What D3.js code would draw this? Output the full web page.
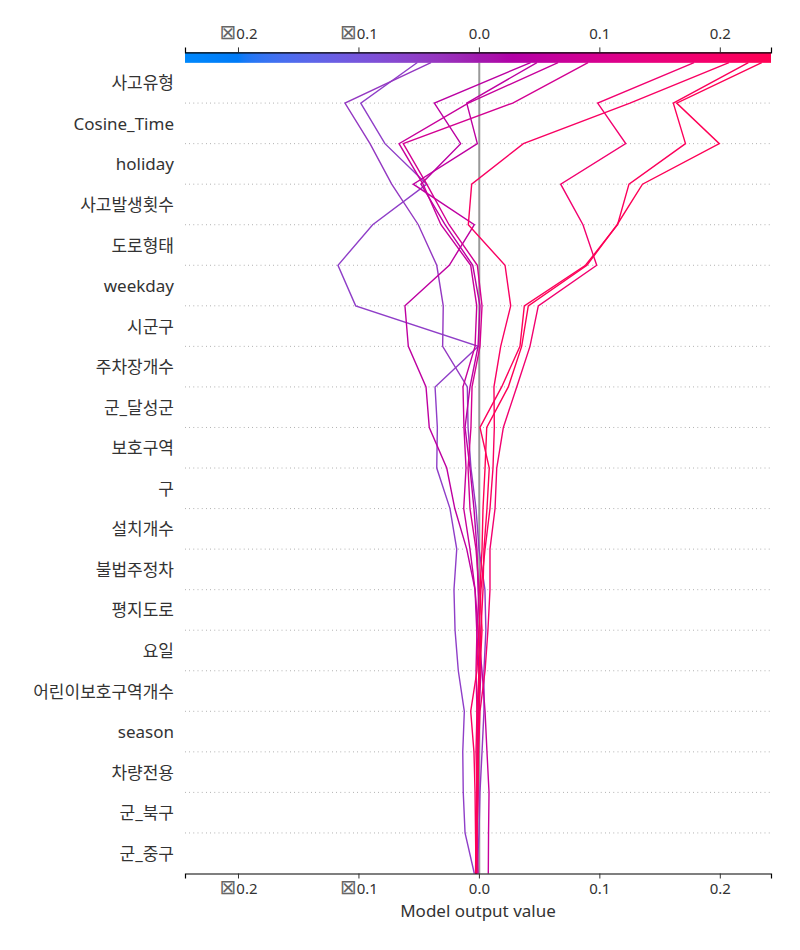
<!DOCTYPE html>
<html><head><meta charset="utf-8">
<script src="https://cdn.jsdelivr.net/npm/d3@7"></script>
<style>
body{margin:0;background:#fff}
text{font-family:"Noto Sans","Noto Sans CJK KR",sans-serif;fill:#333}
</style>
</head><body>
<svg id="chart" width="800" height="950"></svg>
<script>
// Features, top to bottom
const features = ["사고유형","Cosine_Time","holiday","사고발생횟수","도로형태","weekday","시군구","주차장개수","군_달성군","보호구역","구","설치개수","불법주정차","평지도로","요일","어린이보호구역개수","season","차량전용","군_북구","군_중구"];
const xTicks = [-0.2, -0.1, 0.0, 0.1, 0.2];
const xTickLabels = ["⊠0.2", "⊠0.1", "0.0", "0.1", "0.2"];
const xDomain = [-0.244, 0.2425];
const baseValue = 0.0003;
const xLabel = "Model output value";

// Decision paths: cumulative model output at each feature boundary, from the top (final output) down to the bottom
const pathP1 = [-0.0511,-0.0981,-0.0780,-0.0433,-0.0882,-0.1170,-0.1023,-0.0005,-0.0364,-0.0345,-0.0350,-0.0240,-0.0184,-0.0207,-0.0198,-0.0171,-0.0121,-0.0134,-0.0130,-0.0115,-0.0038];
const pathP2 = [-0.0398,-0.1112,-0.0904,-0.0724,-0.0503,-0.0350,-0.0296,-0.0301,-0.0096,-0.0090,-0.0066,-0.0024,0.0001,0.0050,0.0058,0.0042,0.0042,0.0026,0.0009,0.0001,-0.0016];
const pathM1 = [0.0429,-0.0370,-0.0151,-0.0481,-0.0281,-0.0051,0.0009,-0.0007,-0.0074,-0.0115,-0.0074,-0.0041,-0.0016,-0.0007,0.0009,0.0017,0.0001,-0.0007,-0.0016,-0.0016,-0.0007];
const pathM2 = [0.0482,-0.0101,-0.0013,-0.0545,-0.0038,-0.0246,-0.0614,-0.0586,-0.0439,-0.0412,-0.0267,-0.0200,-0.0101,-0.0032,-0.0018,0.0001,-0.0007,-0.0016,-0.0016,-0.0024,-0.0024];
const pathM3 = [0.0657,-0.0088,-0.0663,-0.0464,-0.0315,-0.0068,-0.0018,-0.0032,-0.0132,-0.0124,-0.0107,-0.0126,-0.0074,-0.0032,-0.0007,0.0026,0.0051,0.0067,0.0084,0.0080,0.0078];
const pathM4 = [0.0906,0.0281,-0.0628,-0.0433,-0.0248,-0.0013,0.0026,0.0009,-0.0057,-0.0066,-0.0090,-0.0074,-0.0024,0.0001,-0.0016,-0.0024,-0.0016,-0.0007,-0.0007,-0.0016,-0.0024];
const pathR1 = [0.1786,0.0986,0.1219,0.0679,0.0864,0.0978,0.0493,0.0424,0.0314,0.0203,0.0148,0.0134,0.0092,0.0092,0.0075,0.0051,0.0009,-0.0003,-0.0007,-0.0016,-0.0016];
const pathR2 = [0.2076,0.1254,0.0369,-0.0060,-0.0088,0.0217,0.0264,0.0181,0.0125,0.0128,0.0117,0.0092,0.0051,0.0017,0.0001,-0.0016,-0.0068,-0.0041,-0.0032,-0.0028,-0.0024];
const pathR3 = [0.2237,0.1614,0.1715,0.1246,0.1151,0.0885,0.0377,0.0341,0.0189,0.0009,0.0086,0.0067,0.0042,0.0034,0.0017,0.0001,-0.0016,-0.0024,-0.0016,-0.0016,-0.0024];
const pathR4 = [0.2348,0.1642,0.1996,0.1358,0.1147,0.0897,0.0410,0.0355,0.0244,0.0065,0.0051,0.0034,0.0026,0.0009,0.0026,0.0009,0.0001,-0.0007,-0.0016,-0.0024,-0.0028];
const paths = [pathP1, pathP2, pathM1, pathM2, pathM3, pathM4, pathR1, pathR2, pathR3, pathR4];

const svg = d3.select("#chart");
const nF = features.length;
const x = d3.scaleLinear().domain(xDomain).range([185, 771]);
const y = d3.scaleLinear().domain([0, nF + 0.25]).range([873.5, 52.4]);

// SHAP red_blue colormap (LCH interpolation)
function redBlue(t) {
  t = Math.max(0, Math.min(1, t));
  const h = 266.93 + t * (380.32 - 266.93);
  const c = 70 + 20 * t;
  const l = t < 0.5 ? 54 - 28 * t : 40 + 28 * (t - 0.5);
  return d3.hcl(h, c, l).formatHex();
}
const norm = d3.scaleLinear().domain(xDomain).range([0, 1]).clamp(true);

// base value line
svg.append("line")
  .attr("x1", x(baseValue)).attr("x2", x(baseValue))
  .attr("y1", y(0)).attr("y2", y(nF))
  .attr("stroke", "#999").attr("stroke-width", 2);

// dotted horizontal grid
for (let k = 1; k < nF; k++) {
  svg.append("line")
    .attr("x1", x(xDomain[0])).attr("x2", x(xDomain[1]))
    .attr("y1", y(k)).attr("y2", y(k))
    .attr("stroke", "#888").attr("stroke-width", 0.8)
    .attr("stroke-dasharray", "0.8 3.4");
}

// decision lines
const line = d3.line().x(d => x(d[0])).y(d => y(d[1]));
paths.forEach(p => {
  const pts = p.map((v, i) => [v, nF - i]);
  svg.append("path")
    .attr("d", line(pts))
    .attr("fill", "none")
    .attr("stroke", redBlue(norm(p[0])))
    .attr("stroke-width", 1.4)
    .attr("stroke-linejoin", "miter");
});

// colorbar
const defs = svg.append("defs");
const grad = defs.append("linearGradient").attr("id", "cb").attr("x1", "0%").attr("x2", "100%");
d3.range(0, 101).forEach(i => {
  grad.append("stop").attr("offset", i + "%").attr("stop-color", redBlue(i / 100));
});
svg.append("rect")
  .attr("x", x(xDomain[0])).attr("y", y(nF + 0.25))
  .attr("width", x(xDomain[1]) - x(xDomain[0]))
  .attr("height", y(nF) - y(nF + 0.25) + 0.3)
  .attr("fill", "url(#cb)");

// axes
const topAxis = d3.axisTop(x).tickValues(xTicks).tickFormat("").tickSize(5).tickPadding(6);
const botAxis = d3.axisBottom(x).tickValues(xTicks).tickFormat("").tickSize(5).tickPadding(6);
const gt = svg.append("g").attr("transform", `translate(0,${y(nF + 0.25)})`).call(topAxis);
const gb = svg.append("g").attr("transform", `translate(0,${y(0)})`).call(botAxis);
function labelTicks(g, dy) {
  g.select(".domain").attr("stroke", "#000").attr("stroke-width", 1.2);
  g.selectAll(".tick line").attr("stroke", "#333");
  g.selectAll(".tick text").each(function(d, i) {
    const t = d3.select(this).text(null).attr("y", dy).attr("dy", null)
      .style("font-size", "15px").attr("fill", "#333");
    const lab = xTickLabels[i];
    if (lab.startsWith("⊠")) {
      t.append("tspan").style("font-family", "'DejaVu Sans',sans-serif").style("font-size", "20px")
        .attr("fill", "#666").text("⊠");
      t.append("tspan").text(lab.slice(1));
    } else {
      t.text(lab);
    }
  });
}
labelTicks(gt, -13);
labelTicks(gb, 20);

// feature labels
svg.append("g").selectAll("text").data(features).join("text")
  .attr("x", 174)
  .attr("y", (d, i) => y(nF - i - 0.5))
  .attr("text-anchor", "end")
  .attr("dominant-baseline", "central")
  .style("font-size", "17px")
  .text(d => d);

// x label
svg.append("text")
  .attr("x", (x(xDomain[0]) + x(xDomain[1])) / 2)
  .attr("y", 917)
  .attr("text-anchor", "middle")
  .style("font-size", "17px")
  .text(xLabel);
</script>
</body></html>
